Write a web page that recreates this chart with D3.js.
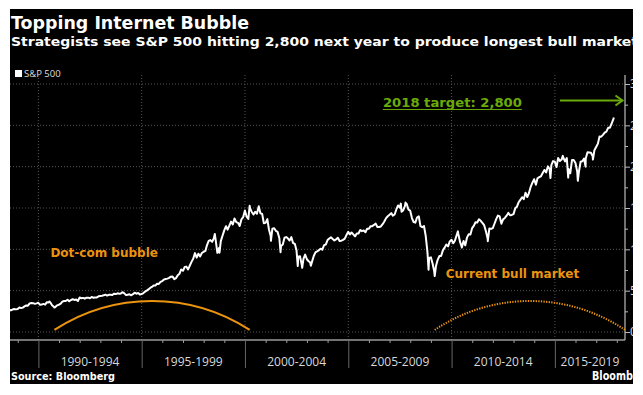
<!DOCTYPE html>
<html><head><meta charset="utf-8">
<script src="https://cdn.jsdelivr.net/npm/d3@7"></script>
<style>html,body{margin:0;padding:0;background:#fff;}svg{display:block}</style>
</head><body>
<svg id="chart" width="643" height="395"></svg>
<script>
// ---------------- data ----------------
const titleText = "Topping Internet Bubble";
const subtitleText = "Strategists see S&P 500 hitting 2,800 next year to produce longest bull market";
const seriesName = "S&P 500";
const sourceText = "Source: Bloomberg";
const brandText = "Bloomberg";
const periodStarts = [1990, 1995, 2000, 2005, 2010, 2015];
const periodLabels = ["1990-1994", "1995-1999", "2000-2004", "2005-2009", "2010-2014", "2015-2019"];
const yTickValues = [0, 500, 1000, 1500, 2000, 2500, 3000];
const yTickLabels = ["0", "500", "1000", "1500", "2000", "2500", "3000"];

// month-end closes starting July 1988
const firstMonth = [1988, 6];
const monthlyClose = [
  272.0, 261.5, 271.9, 278.9, 273.7, 277.7,
  297.5, 288.9, 294.9, 309.6, 320.5, 318.0, 346.1, 351.5, 349.2, 340.4, 346.0, 353.4,
  329.1, 331.9, 339.9, 330.8, 361.2, 358.0, 356.2, 322.6, 306.1, 304.0, 322.2, 330.2,
  343.9, 367.1, 375.2, 375.3, 389.8, 371.2, 387.8, 395.4, 387.9, 392.5, 375.2, 417.1,
  408.8, 412.7, 403.7, 415.0, 415.4, 408.1, 424.2, 414.0, 417.8, 418.7, 431.4, 435.7,
  438.8, 443.4, 451.7, 440.2, 450.2, 451.0, 448.1, 463.6, 458.9, 467.8, 461.8, 466.5,
  481.6, 467.1, 445.8, 450.9, 456.5, 444.3, 458.3, 475.5, 462.7, 472.4, 453.7, 459.3,
  470.4, 487.4, 500.7, 514.7, 533.4, 544.8, 562.1, 561.9, 584.4, 581.5, 605.4, 615.9,
  636.0, 640.4, 645.5, 654.2, 669.1, 670.6, 640.0, 652.0, 687.3, 705.3, 757.0, 740.7,
  786.2, 790.8, 757.1, 801.3, 848.3, 885.1, 954.3, 899.5, 947.3, 914.6, 955.4, 970.4,
  980.3, 1049.3, 1101.8, 1111.8, 1090.8, 1133.8, 1120.7, 957.3, 1017.0, 1098.7, 1163.6, 1229.2,
  1279.6, 1238.3, 1286.4, 1335.2, 1301.8, 1372.7, 1328.7, 1320.4, 1282.7, 1362.9, 1388.9, 1469.3,
  1394.5, 1366.4, 1498.6, 1452.4, 1420.6, 1454.6, 1430.8, 1517.7, 1436.5, 1429.4, 1315.2, 1320.3,
  1366.0, 1239.9, 1160.3, 1249.5, 1255.8, 1224.4, 1211.2, 1133.6, 1040.9, 1059.8, 1139.5, 1148.1,
  1130.2, 1106.7, 1147.4, 1076.9, 1067.1, 989.8, 911.6, 916.1, 815.3, 885.8, 936.3, 879.8,
  855.7, 841.2, 848.2, 916.9, 963.6, 974.5, 990.3, 1008.0, 996.0, 1050.7, 1058.2, 1111.9,
  1131.1, 1144.9, 1126.2, 1107.3, 1120.7, 1140.8, 1101.7, 1104.2, 1114.6, 1130.2, 1173.8, 1211.9,
  1181.3, 1203.6, 1180.6, 1156.9, 1191.5, 1191.3, 1234.2, 1220.3, 1228.8, 1207.0, 1249.5, 1248.3,
  1280.1, 1280.7, 1294.9, 1310.6, 1270.1, 1270.2, 1276.7, 1303.8, 1335.9, 1377.9, 1400.6, 1418.3,
  1438.2, 1406.8, 1420.9, 1482.4, 1530.6, 1503.4, 1455.3, 1474.0, 1526.8, 1549.4, 1481.1, 1468.4,
  1378.6, 1330.6, 1322.7, 1385.6, 1400.4, 1280.0, 1267.4, 1282.8, 1166.4, 968.8, 896.2, 903.3,
  825.9, 735.1, 797.9, 872.8, 919.1, 919.3, 987.5, 1020.6, 1057.1, 1036.2, 1095.6, 1115.1,
  1073.9, 1104.5, 1169.4, 1186.7, 1089.4, 1030.7, 1101.6, 1049.3, 1141.2, 1183.3, 1180.6, 1257.6,
  1286.1, 1327.2, 1325.8, 1363.6, 1345.2, 1320.6, 1292.3, 1218.9, 1131.4, 1253.3, 1247.0, 1257.6,
  1312.4, 1365.7, 1408.5, 1397.9, 1310.3, 1362.2, 1379.3, 1406.6, 1440.7, 1412.2, 1416.2, 1426.2,
  1498.1, 1514.7, 1569.2, 1597.6, 1630.7, 1606.3, 1685.7, 1633.0, 1681.6, 1756.5, 1805.8, 1848.4,
  1782.6, 1859.5, 1872.3, 1883.9, 1923.6, 1960.2, 1930.7, 2003.4, 1972.3, 2018.1, 2067.6, 2058.9,
  1995.0, 2104.5, 2067.9, 2085.5, 2107.4, 2063.1, 2103.8, 1972.2, 1920.0, 2079.4, 2080.4, 2043.9,
  1940.2, 1932.2, 2059.7, 2065.3, 2096.9, 2098.9, 2173.6, 2171.0, 2168.3, 2126.2, 2198.8, 2238.8,
  2278.9, 2363.6, 2362.7, 2384.2, 2411.8, 2423.4, 2470.3, 2471.7, 2519.4, 2575.3
];
// intra-month highs / lows and the last reading
const dailyDates = ["1990-07-16","1990-10-11","1998-07-17","1998-10-08","2000-03-24","2000-09-01","2001-04-04","2001-09-21",
  "2002-07-23","2002-10-09","2003-03-11","2007-07-19","2007-10-09","2008-11-20","2009-03-09","2010-04-23","2010-07-02",
  "2011-10-03","2014-10-15","2015-05-21","2015-08-25","2016-02-11","2016-06-27","2016-11-04","2017-11-08"];
const dailyValues = [369.0, 295.5, 1186.8, 959.4, 1527.5, 1520.8, 1103.3, 965.8,
  797.7, 776.8, 800.7, 1553.1, 1565.2, 752.4, 676.5, 1217.3, 1022.6,
  1099.2, 1862.5, 2130.8, 1867.6, 1829.1, 2000.5, 2085.2, 2594.4];

const targetLabel = "2018 target: 2,800";
const targetValue = 2800;
const bullLabels = ["Dot-com bubble", "Current bull market"];
const bullStarts = ["1990-10-11", "2009-03-09"];
const bullEnds = ["2000-03-24", "2018-05-25"];
const bullArcEnd = 25, bullArcPeak = 375;

// ---------------- chart ----------------
const svg = d3.select("#chart");
const panel = {x0: 10, y0: 9, x1: 633, y1: 384};
const plot = {left: 10, right: 625, top: 75, bottom: 340};
const parse = d3.utcParse("%Y-%m-%d");

const x = d3.scaleUtc()
  .domain([Date.UTC(1988, 7, 17), Date.UTC(2018, 4, 25)])
  .range([plot.left, plot.right]);
const y = d3.scaleLinear().domain([0, 3000]).range([332, 84]);

const defs = svg.append("defs");
defs.append("clipPath").attr("id", "panelClip").append("rect")
  .attr("x", panel.x0).attr("y", panel.y0)
  .attr("width", panel.x1 - panel.x0).attr("height", panel.y1 - panel.y0);
defs.append("clipPath").attr("id", "plotClip").append("rect")
  .attr("x", plot.left).attr("y", plot.top)
  .attr("width", plot.right - plot.left).attr("height", plot.bottom - plot.top);

svg.append("rect").attr("x", panel.x0).attr("y", panel.y0)
  .attr("width", panel.x1 - panel.x0).attr("height", panel.y1 - panel.y0).attr("fill", "#000");

const g = svg.append("g").attr("clip-path", "url(#panelClip)");

// titles
g.append("text").attr("x", 11).attr("y", 29).text(titleText)
  .attr("font-family", "DejaVu Sans").attr("font-weight", "bold").attr("font-size", 17)
  .attr("fill", "#fff").attr("textLength", 238).attr("lengthAdjust", "spacingAndGlyphs");
g.append("text").attr("x", 11).attr("y", 46).text(subtitleText)
  .attr("font-family", "DejaVu Sans").attr("font-weight", "bold").attr("font-size", 12.5)
  .attr("fill", "#fff").attr("textLength", 627).attr("lengthAdjust", "spacingAndGlyphs");

// legend
g.append("rect").attr("x", 15).attr("y", 70).attr("width", 7).attr("height", 7).attr("fill", "#fff");
g.append("text").attr("x", 24).attr("y", 77).text(seriesName)
  .attr("font-family", "Open Sans").attr("font-size", 9.5).attr("fill", "#ddd");

// grid
const gridColor = "#555";
g.append("g").selectAll("line").data(yTickValues).join("line")
  .attr("x1", plot.left).attr("x2", plot.right)
  .attr("y1", d => y(d)).attr("y2", d => y(d))
  .attr("stroke", gridColor).attr("stroke-width", 1).attr("stroke-dasharray", "1,2");
g.append("g").selectAll("line").data(periodStarts).join("line")
  .attr("x1", d => x(Date.UTC(d, 0, 1))).attr("x2", d => x(Date.UTC(d, 0, 1)))
  .attr("y1", plot.top).attr("y2", plot.bottom)
  .attr("stroke", gridColor).attr("stroke-width", 1).attr("stroke-dasharray", "1,2");

// bottom axis
const axisColor = "#9a9a9a";
const yearTicks = d3.range(1989, 2019).map(yr => Date.UTC(yr, 0, 1));
const xAxis = d3.axisBottom(x).tickValues(yearTicks).tickSize(3).tickFormat("");
const xg = g.append("g").attr("transform", `translate(0,${plot.bottom})`).call(xAxis);
xg.select(".domain").attr("stroke", axisColor).attr("stroke-width", 1.6).attr("d", `M${plot.left},0H${plot.right}`);
xg.selectAll(".tick line").attr("stroke", axisColor);
xg.selectAll(".tick").filter(d => new Date(d).getUTCFullYear() % 5 === 0)
  .select("line").attr("y2", 28).attr("stroke", "#666");

g.append("g").selectAll("text").data(periodStarts).join("text")
  .attr("x", d => (x(Date.UTC(d, 0, 1)) + Math.min(plot.right, x(Date.UTC(d + 5, 0, 1)))) / 2)
  .attr("y", 366).attr("text-anchor", "middle")
  .attr("font-family", "Open Sans").attr("font-size", 12).attr("fill", "#d8d8d8")
  .text((d, i) => periodLabels[i]);

// right axis
const minorY = d3.range(0, 3001, 250);
const yAxis = d3.axisRight(y).tickValues(minorY).tickSize(3).tickPadding(2)
  .tickFormat(d => { const i = yTickValues.indexOf(d); return i >= 0 ? yTickLabels[i] : ""; });
const yg = g.append("g").attr("transform", `translate(${plot.right},0)`).call(yAxis);
yg.select(".domain").attr("stroke", "#bbb").attr("stroke-width", 1.2).attr("d", `M0,${plot.top}V${plot.bottom}`);
yg.selectAll(".tick line").attr("stroke", "#bbb");
yg.selectAll(".tick").filter(d => d % 500 === 0).select("line").attr("x2", 5);
yg.selectAll(".tick text").attr("fill", "#ddd").attr("font-family", "Open Sans").attr("font-size", 12).attr("x", 5);

// series
const series = monthlyClose.map((v, i) => ({
  date: new Date(Date.UTC(firstMonth[0], firstMonth[1] + i + 1, 0)), value: v }));
dailyDates.forEach((d, i) => series.push({date: parse(d), value: dailyValues[i]}));
series.sort((a, b) => a.date - b.date);

const plotG = g.append("g").attr("clip-path", "url(#plotClip)");

// bull market arcs
const orange = "#ec9410";
bullLabels.forEach((lab, i) => {
  const x0 = x(parse(bullStarts[i])), x1 = x(parse(bullEnds[i]));
  const ye = y(bullArcEnd), yp = y(bullArcPeak);
  const h = (x1 - x0) / 2, s = ye - yp;
  const r = (h * h + s * s) / (2 * s);
  const path = `M${x0},${ye}A${r},${r} 0 0 1 ${x1},${ye}`;
  plotG.append("path").attr("d", path).attr("fill", "none").attr("stroke", orange)
    .attr("stroke-width", 2)
    .attr("stroke-dasharray", i === 0 ? null : "1.3,1.3");
});

const line = d3.line().x(d => x(d.date)).y(d => y(d.value));
plotG.append("path").datum(series).attr("d", line)
  .attr("fill", "none").attr("stroke", "#fff").attr("stroke-width", 2).attr("stroke-linejoin", "round");

// annotations (anchored in data space)
const bullLabelAnchors = [[Date.UTC(1990, 7, 1), 907], [Date.UTC(2009, 8, 20), 653]];
bullLabels.forEach((lab, i) => {
  g.append("text").attr("x", x(bullLabelAnchors[i][0])).attr("y", y(bullLabelAnchors[i][1]))
    .attr("font-family", "DejaVu Sans").attr("font-weight", "bold").attr("font-size", 12)
    .attr("fill", orange).text(lab);
});

const green = "#6aab0a";
const tx = x(Date.UTC(2006, 8, 5)), ty = y(2722);
g.append("text").attr("x", tx).attr("y", ty)
  .attr("font-family", "DejaVu Sans").attr("font-weight", "bold").attr("font-size", 12)
  .attr("fill", green).attr("textLength", 139).attr("lengthAdjust", "spacingAndGlyphs").text(targetLabel);
g.append("line").attr("x1", tx).attr("x2", tx + 139).attr("y1", ty + 2.5).attr("y2", ty + 2.5)
  .attr("stroke", green).attr("stroke-width", 1);
const ax0 = x(Date.UTC(2015, 3, 1)), ax1 = x(Date.UTC(2018, 3, 10)), ay = y(targetValue);
g.append("line").attr("x1", ax0).attr("x2", ax1).attr("y1", ay).attr("y2", ay)
  .attr("stroke", green).attr("stroke-width", 2);
g.append("path").attr("d", `M${ax1 - 7},${ay - 5}L${ax1},${ay}L${ax1 - 7},${ay + 5}`)
  .attr("fill", "none").attr("stroke", green).attr("stroke-width", 2);

// footer
g.append("text").attr("x", 11).attr("y", 380).text(sourceText)
  .attr("font-family", "DejaVu Sans").attr("font-weight", "bold").attr("font-size", 10)
  .attr("fill", "#fff").attr("textLength", 104).attr("lengthAdjust", "spacingAndGlyphs");
g.append("text").attr("x", 592).attr("y", 380).text(brandText)
  .attr("font-family", "DejaVu Sans").attr("font-weight", "bold").attr("font-size", 12)
  .attr("fill", "#fff").attr("textLength", 59).attr("lengthAdjust", "spacingAndGlyphs");
</script>
</body></html>
